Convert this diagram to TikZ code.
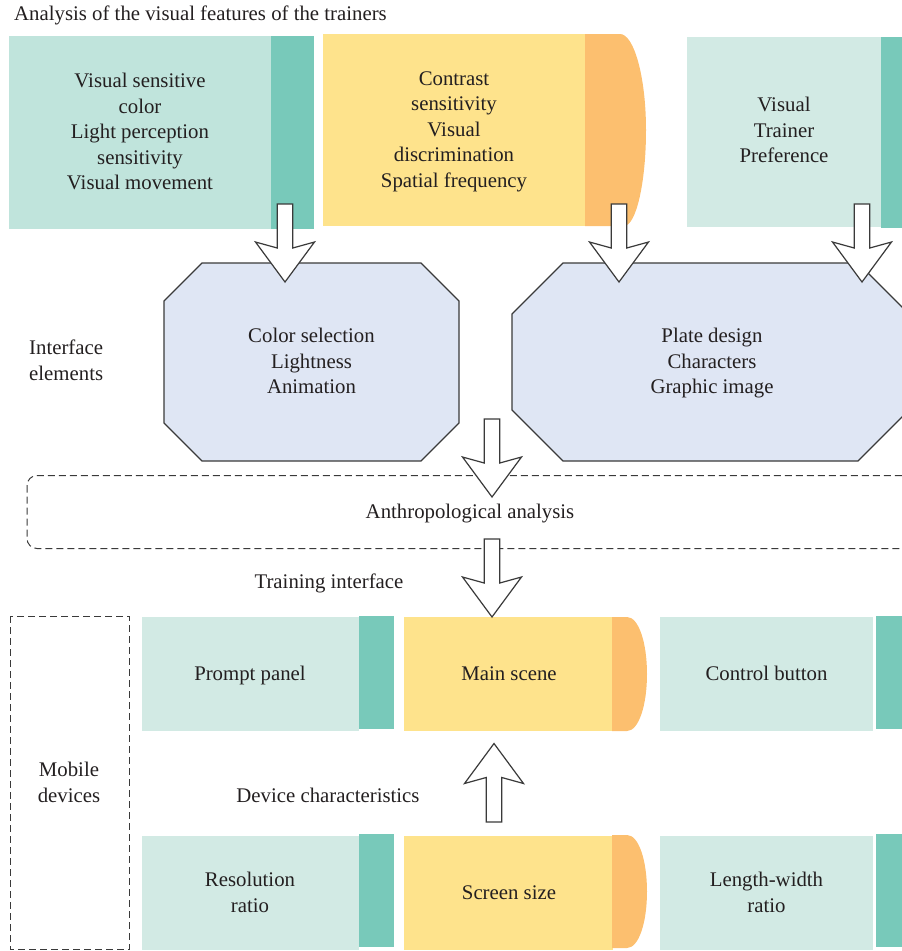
\documentclass[tikz,border=0pt]{standalone}
\usepackage{fontspec}
\setmainfont{Liberation Serif}
\usetikzlibrary{calc}
\definecolor{tealL}{HTML}{C0E4DC}
\definecolor{tealM}{HTML}{D2EAE4}
\definecolor{tealD}{HTML}{78C9BA}
\definecolor{yel}{HTML}{FEE38C}
\definecolor{org}{HTML}{FCBF6F}
\definecolor{octf}{HTML}{DFE6F4}
\definecolor{ln}{HTML}{3A3A3A}
\definecolor{txtc}{HTML}{231F20}
\newcommand\downblk[2]{\draw[blk] ($(#1)+(-7.8,0)$) -- ($(#1)+(7.8,0)$) -- ($(#2)+(7.8,-34)$) -- ($(#2)+(29.5,-40)$) -- (#2) -- ($(#2)+(-29.5,-40)$) -- ($(#2)+(-7.8,-34)$) -- cycle;}
\newcommand\upblk[2]{\draw[blk] ($(#1)+(-7.8,0)$) -- ($(#1)+(7.8,0)$) -- ($(#2)+(7.8,34)$) -- ($(#2)+(29.5,40)$) -- (#2) -- ($(#2)+(-29.5,40)$) -- ($(#2)+(-7.8,34)$) -- cycle;}
\begin{document}
\begin{tikzpicture}[x=1pt,y=-1pt,
  txt/.style={font=\fontsize{20.8}{25.5}\selectfont, text=txtc, align=center, inner sep=0pt},
  blk/.style={draw=ln, fill=white, line width=1.2pt, line join=miter},
  octa/.style={draw=ln, fill=octf, line width=1.1pt},
  dsh/.style={draw=ln, line width=1pt, dash pattern=on 7pt off 4pt}]
\useasboundingbox (0,0) rectangle (902,951);
\clip (0,0) rectangle (902,951);

% title
\node[txt, anchor=west] (title) at (14,15.5) {Analysis of the visual features of the trainers};

% top boxes
\fill[tealL] (9,36) rectangle (271,229);
\fill[tealD] (271,36) rectangle (314,229);
\node[txt] (b1) at (140,131.7) {Visual sensitive\\color\\Light perception\\sensitivity\\Visual movement};

\fill[yel] (323,34) rectangle (585.5,226);
\fill[org] (585,34) -- (620,34) .. controls (634,34) and (646,77) .. (646,130) .. controls (646,183) and (636,226) .. (624,226) -- (585,226) -- cycle;
\node[txt] (b2) at (454,131.5) {Contrast\\sensitivity\\Visual\\discrimination\\Spatial frequency};

\fill[tealM] (687,37) rectangle (881,227);
\fill[tealD] (881,37) rectangle (902,228);
\node[txt] (b3) at (784,130.2) {Visual\\Trainer\\Preference};

% interface elements
\node[txt, anchor=west, align=left] (ie) at (29,360.2) {Interface\\elements};
\draw[octa] (202,263) -- (421,263) -- (459,301) -- (459,423) -- (421,461) -- (202,461) -- (164,423) -- (164,301) -- cycle;
\node[txt] (o1) at (311.5,361.2) {Color selection\\Lightness\\Animation};
\draw[octa] (563,263) -- (858,263) -- (909,314) -- (909,410) -- (858,461) -- (563,461) -- (512,410) -- (512,314) -- cycle;
\node[txt] (o2) at (712,363.5) {Plate design\\Characters\\Graphic image};

% anthropological analysis
\draw[dsh, rounded corners=10pt] (27,475.5) rectangle (920,548.5);
\node[txt] (aa) at (470,514) {Anthropological analysis};
\node[txt] (ti) at (329,583.7) {Training interface};

% mobile devices
\draw[dsh] (10,616) rectangle (129.5,949);
\node[txt] (md) at (69,782.2) {Mobile\\devices};

% middle row
\fill[tealM] (142,617) rectangle (358.5,731);
\fill[tealD] (358.5,616) rectangle (394,729);
\node[txt] (pp) at (250,675.9) {Prompt panel};
\fill[yel] (404,617) rectangle (613,731);
\fill[org] (612,617) -- (627,617) .. controls (638.6,617) and (647,642.5) .. (647,674) .. controls (647,705.5) and (638.6,731) .. (627,731) -- (612,731) -- cycle;
\node[txt] (ms) at (509,673.7) {Main scene};
\fill[tealM] (660,617) rectangle (873,731);
\fill[tealD] (876,616) rectangle (902,729);
\node[txt] (cb) at (766.5,673.7) {Control button};

\node[txt] (dc) at (328,795.7) {Device characteristics};

% bottom row
\fill[tealM] (142,836) rectangle (358.5,950);
\fill[tealD] (358.5,834) rectangle (394,947);
\node[txt] (rr) at (250,892.2) {Resolution\\ratio};
\fill[yel] (404,836) rectangle (613,950);
\fill[org] (612,835) -- (627,835) .. controls (638.6,835) and (647,860) .. (647,891.5) .. controls (647,923) and (638.6,948) .. (627,948) -- (612,948) -- cycle;
\node[txt] (ss) at (509,892.7) {Screen size};
\fill[tealM] (660,836) rectangle (873,950);
\fill[tealD] (876,834) rectangle (902,947);
\node[txt] (lw) at (766.5,892.2) {Length-width\\ratio};

% arrows
\coordinate (a1s) at (285,204); \coordinate (a1t) at (285,282);
\coordinate (a2s) at (619,204); \coordinate (a2t) at (619,282);
\coordinate (a3s) at (862,204); \coordinate (a3t) at (862,282);
\coordinate (a4s) at (492,419); \coordinate (a4t) at (492,497);
\coordinate (a5s) at (492,539); \coordinate (a5t) at (492,617);
\coordinate (a6s) at (494,822); \coordinate (a6t) at (494,743.5);
\downblk{a1s}{a1t}
\downblk{a2s}{a2t}
\downblk{a3s}{a3t}
\downblk{a4s}{a4t}
\downblk{a5s}{a5t}
\upblk{a6s}{a6t}
\end{tikzpicture}
\end{document}
